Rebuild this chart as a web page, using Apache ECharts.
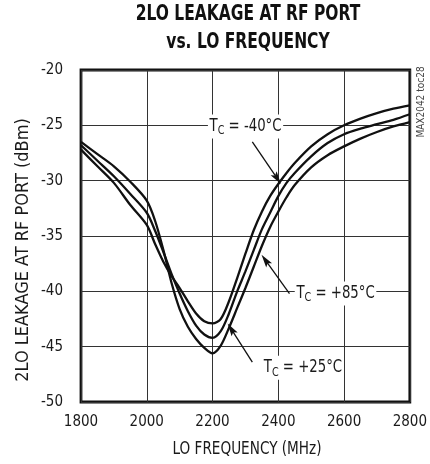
<!DOCTYPE html>
<html>
<head>
<meta charset="utf-8">
<style>html,body{margin:0;padding:0;background:#fff}#c{width:430px;height:464px}</style>
<script src="https://cdn.jsdelivr.net/npm/echarts/dist/echarts.min.js"></script>
</head>
<body>
<div id="c"></div>
<script>
// ---- data ----
const freq = [1800,1850,1900,1950,2000,2025,2050,2075,2100,2125,2150,2175,2200,2225,2250,2275,2300,2325,2350,2375,2400,2425,2450,2500,2550,2600,2650,2700,2750,2800];
const tcMinus40 = [-27.2,-28.7,-30.2,-32.2,-34.0,-35.7,-37.3,-38.6,-39.7,-40.9,-42.0,-42.7,-42.9,-42.5,-40.9,-38.8,-36.6,-34.5,-32.8,-31.4,-30.3,-29.3,-28.4,-26.9,-25.8,-25.0,-24.4,-23.9,-23.5,-23.2];
const tcPlus25  = [-26.8,-28.2,-29.6,-31.2,-32.9,-34.5,-36.4,-38.4,-40.2,-41.8,-43.1,-43.9,-44.2,-43.6,-42.0,-40.0,-38.2,-36.3,-34.4,-32.9,-31.4,-30.2,-29.3,-27.8,-26.6,-25.8,-25.3,-24.9,-24.5,-24.0];
const tcPlus85  = [-26.5,-27.6,-28.7,-30.1,-31.8,-33.6,-36.2,-39.2,-41.6,-43.2,-44.3,-45.1,-45.6,-44.9,-43.3,-41.5,-39.7,-37.8,-35.9,-34.2,-32.8,-31.5,-30.4,-28.8,-27.7,-26.9,-26.2,-25.6,-25.1,-24.7];
const xTicks = [1800,2000,2200,2400,2600,2800];
const yTicks = [-50,-45,-40,-35,-30,-25,-20];
const titleLines = ['2LO LEAKAGE AT RF PORT','vs. LO FREQUENCY'];
const xName = 'LO FREQUENCY (MHz)';
const yName = '2LO LEAKAGE AT RF PORT (dBm)';
const tocText = 'MAX2042 toc28';
// annotations: label anchor (left, middle) and arrow start -> tip, in data units
const notes = [
  {t:'-40°C', label:[2186,-25.1], from:[2321,-26.5], to:[2408,-30.3]},
  {t:'+85°C', label:[2450,-40.2], from:[2434,-40.2], to:[2349,-36.7]},
  {t:'+25°C', label:[2351,-46.9], from:[2321,-46.4], to:[2246,-42.9]}
];

const FONT = '"Liberation Sans Narrow","DejaVu Sans Condensed","Arial Narrow",sans-serif';
const INK = '#1a1a1a';
const chart = echarts.init(document.getElementById('c'), null, {renderer:'canvas'});
const mk = v => freq.map((f,i)=>[f, v[i]]);
const lineSeries = (name, v) => ({
  name, type:'line', data: mk(v), showSymbol:false, smooth:0.3,
  lineStyle:{color:'#111', width:2.3}, z:3, silent:true
});
chart.setOption({
  animation:false,
  backgroundColor:'#fff',
  grid:{left:81, right:15, top:70, bottom:62, show:true, borderColor:'#111', borderWidth:2.8, backgroundColor:'transparent'},
  xAxis:{type:'value', min:xTicks[0], max:xTicks[xTicks.length-1], interval:200,
    axisLine:{show:false}, axisTick:{show:false},
    splitLine:{show:true, lineStyle:{color:'#333', width:1}},
    axisLabel:{fontFamily:FONT, fontSize:15, color:INK, margin:13, showMinLabel:true, showMaxLabel:true, formatter: v => String(v)}},
  yAxis:{type:'value', min:yTicks[0], max:yTicks[yTicks.length-1], interval:5,
    axisLine:{show:false}, axisTick:{show:false},
    splitLine:{show:true, lineStyle:{color:'#333', width:1}},
    axisLabel:{fontFamily:FONT, fontSize:15, color:INK, margin:18, showMinLabel:true, showMaxLabel:true, formatter: v => String(v)}},
  series:[lineSeries('TC = -40°C', tcMinus40), lineSeries('TC = +25°C', tcPlus25), lineSeries('TC = +85°C', tcPlus85)]
});

const px = p => chart.convertToPixel({gridIndex:0}, p);
const g = [];
titleLines.forEach((s,i)=>g.push({type:'text', x:248, y:15+i*28, z:10, scaleX:0.82,
  style:{text:s, fontFamily:FONT, fontWeight:'bold', fontSize:21, fill:'#111', align:'center', verticalAlign:'middle'}}));
g.push({type:'text', x:247, y:450, z:10, scaleX:0.89,
  style:{text:xName, fontFamily:FONT, fontSize:17, fill:INK, align:'center', verticalAlign:'middle'}});
g.push({type:'text', x:23, y:250, rotation:Math.PI/2, z:10,
  style:{text:yName, fontFamily:FONT, fontSize:18, fill:INK, align:'center', verticalAlign:'middle'}});
g.push({type:'text', x:421, y:102, rotation:Math.PI/2, z:10,
  style:{text:tocText, fontFamily:FONT, fontSize:10, fill:'#444', align:'center', verticalAlign:'middle'}});
notes.forEach(n=>{
  const a = px(n.from), b = px(n.to), L = px(n.label);
  const dx=b[0]-a[0], dy=b[1]-a[1], len=Math.hypot(dx,dy), ux=dx/len, uy=dy/len, nx=-uy, ny=ux;
  const hl=13, hw=3.6;
  const base=[b[0]-ux*hl, b[1]-uy*hl];
  g.push({type:'line', z:20, shape:{x1:a[0], y1:a[1], x2:base[0]+ux*3, y2:base[1]+uy*3}, style:{stroke:'#111', lineWidth:1.3}});
  g.push({type:'polygon', z:20, shape:{points:[b,[base[0]+nx*hw, base[1]+ny*hw],[b[0]-ux*hl*0.8, b[1]-uy*hl*0.8],[base[0]-nx*hw, base[1]-ny*hw]]}, style:{fill:'#111'}});
  g.push({type:'text', x:L[0], y:L[1], z:21, scaleX:0.82,
    style:{text:'{m|T}{s|C}{m| = '+n.t+'}', align:'left', verticalAlign:'middle',
      backgroundColor:'#fff', padding:[0,2,0,2],
      rich:{m:{fontFamily:FONT, fontSize:18, fill:INK, lineHeight:24, verticalAlign:'middle'},
            s:{fontFamily:FONT, fontSize:13, fill:INK, lineHeight:24, padding:[9,0,0,0], verticalAlign:'middle'}}}});
});
chart.setOption({graphic:g});
</script>
</body>
</html>
